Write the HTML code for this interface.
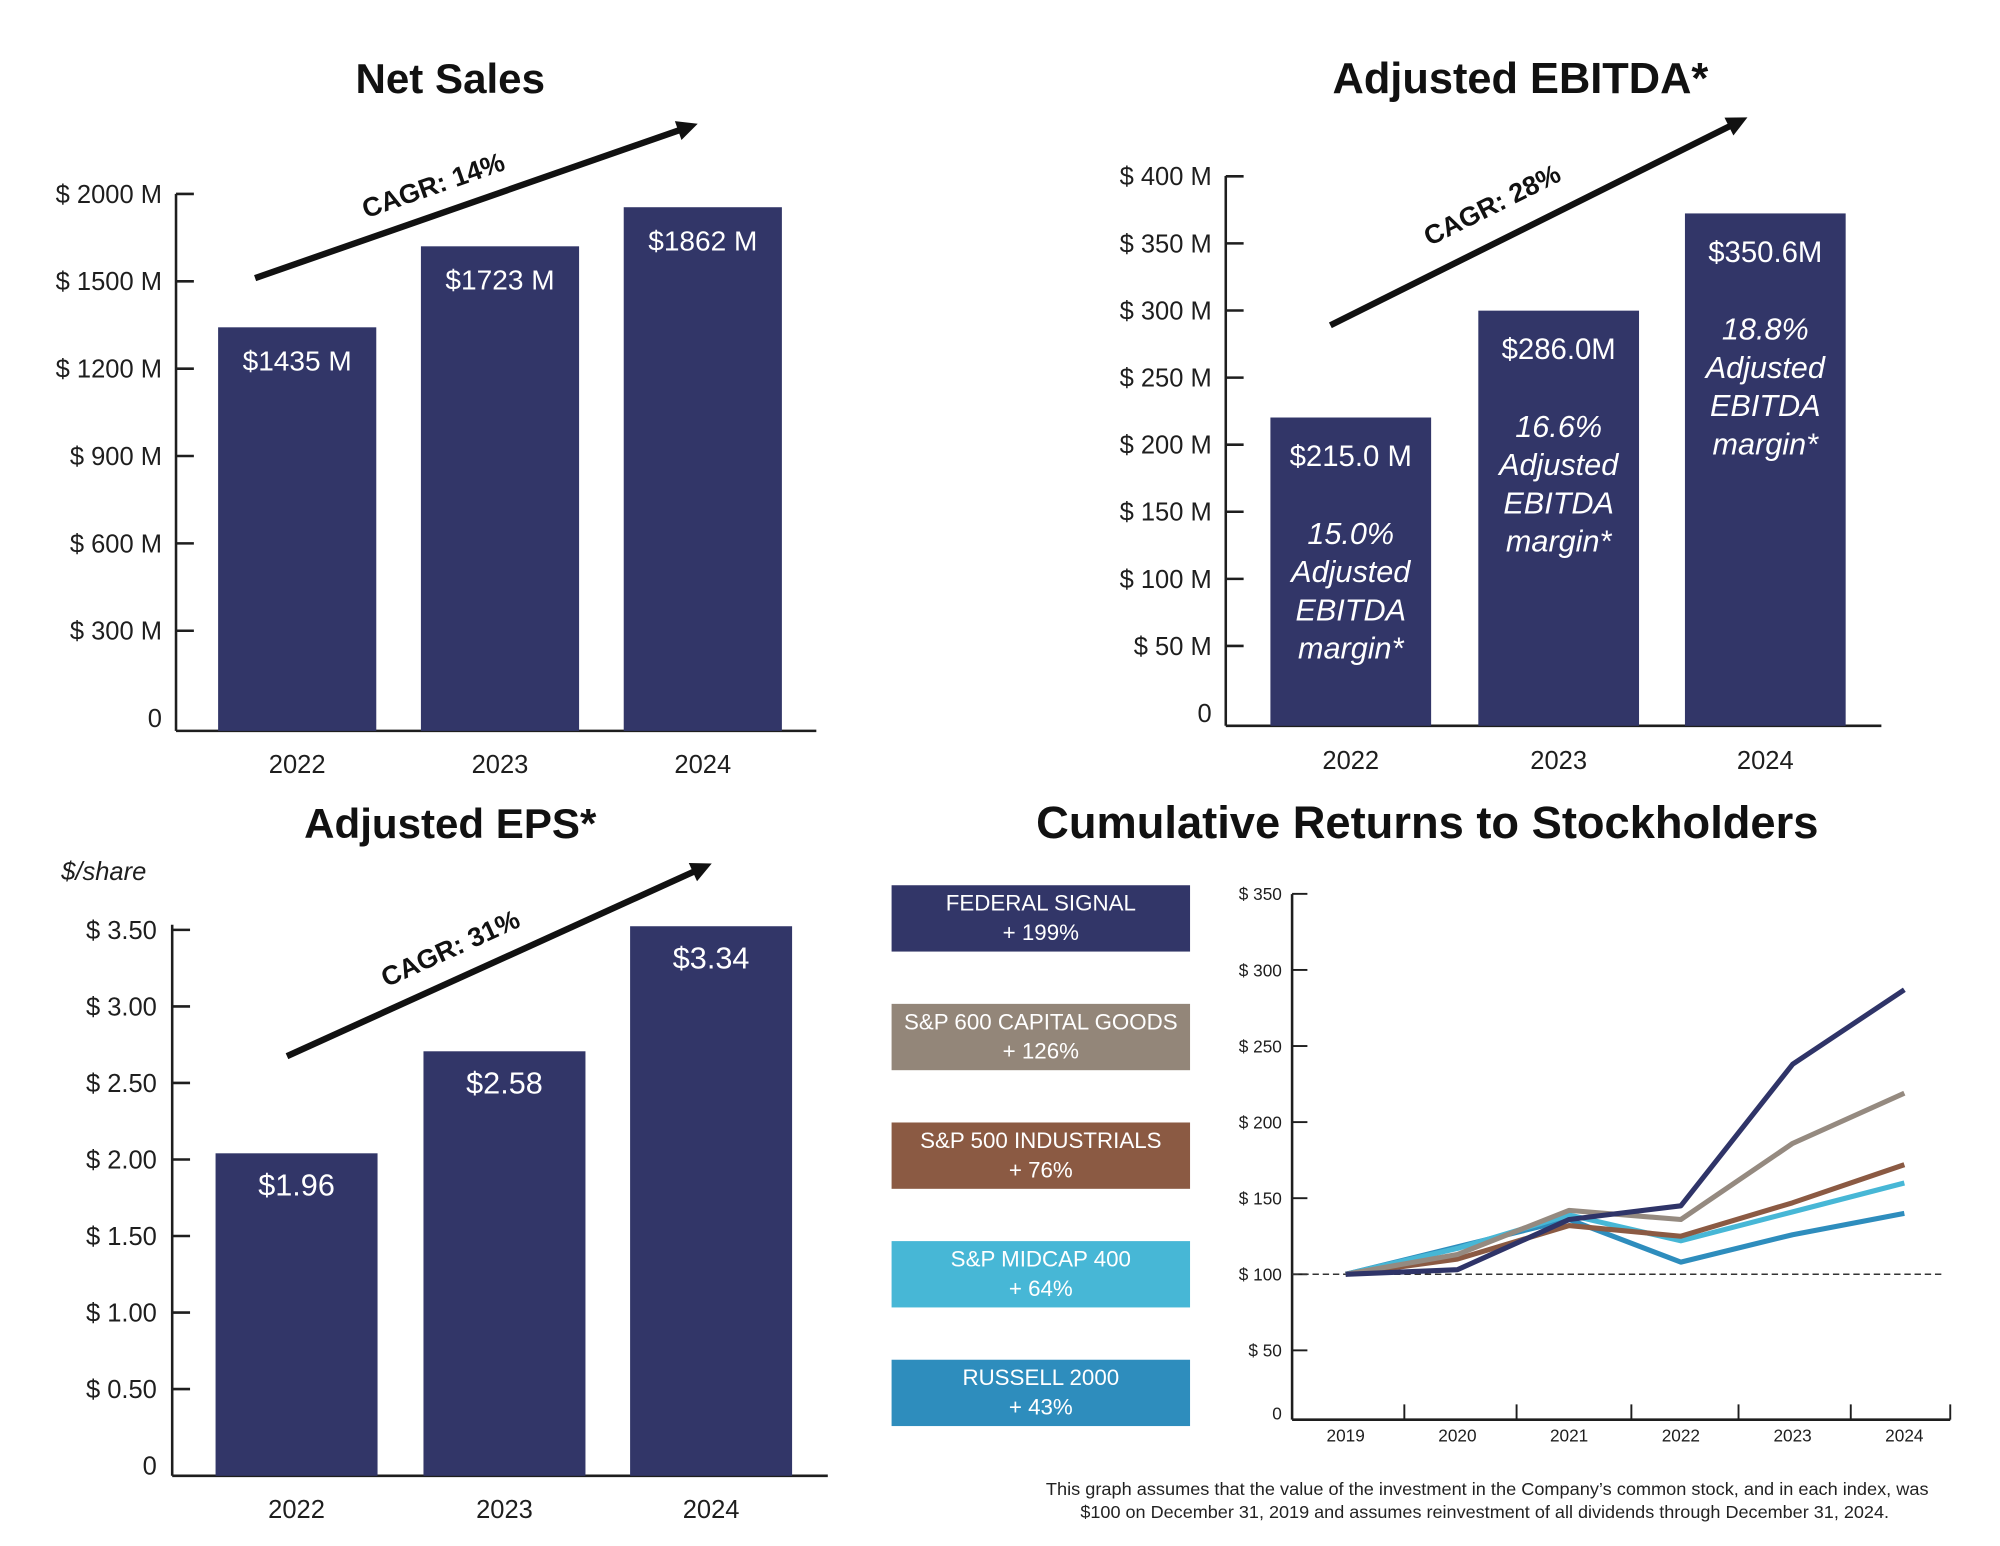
<!DOCTYPE html>
<html><head><meta charset="utf-8"><style>
html,body{margin:0;padding:0;background:#fff;}
svg{display:block;font-family:"Liberation Sans",sans-serif;}
</style></head><body>
<svg id="root" width="2000" height="1546" viewBox="0 0 1568 1212" xmlns="http://www.w3.org/2000/svg">
<rect width="1568" height="1212" fill="#fff"/>
<g id="g"></g>
</svg>
<script>
// ---- data ----
const years = ["2022","2023","2024"];
const salesValues = [1435, 1723, 1862];
const salesLabels = ["$1435 M","$1723 M","$1862 M"];
const salesTicks = ["0","$ 300 M","$ 600 M","$ 900 M","$ 1200 M","$ 1500 M","$ 2000 M"];
const ebitdaValues = [215.0, 286.0, 350.6];
const ebitdaLabels = ["$215.0 M","$286.0M","$350.6M"];
const ebitdaMargins = ["15.0%","16.6%","18.8%"];
const ebitdaTicks = ["0","$ 50 M","$ 100 M","$ 150 M","$ 200 M","$ 250 M","$ 300 M","$ 350 M","$ 400 M"];
const epsValues = [1.96, 2.58, 3.34];
const epsLabels = ["$1.96","$2.58","$3.34"];
const epsTicks = ["0","$ 0.50","$ 1.00","$ 1.50","$ 2.00","$ 2.50","$ 3.00","$ 3.50"];
const returnYears = ["2019","2020","2021","2022","2023","2024"];
const returnTickValues = [0,50,100,150,200,250,300,350];
const fedSignal = [100,103,136,145,238,287];
const capGoods = [100,113,142,136,186,219];
const industrials = [100,110,132,125,147,172];
const midcap = [100,117,139,122,141,160];
const russell = [100,118,136,108,126,140];

const NS="http://www.w3.org/2000/svg";
const G=document.getElementById('g');
function el(tag,attrs,parent,text){const e=document.createElementNS(NS,tag);for(const k in attrs)e.setAttribute(k,attrs[k]);if(text!==undefined)e.textContent=text;(parent||G).appendChild(e);return e;}
const NAVY="#323668", INK="#1e1e1e";

function title(x,y,t,name,fs){const e=el('text',{x:x,y:y,'text-anchor':'middle','font-size':fs||33,'font-weight':'bold',fill:'#111'},G,t);

}
function arrow(x1,y1,x2,y2,tx,ty,label,name){
  const g=el('g',{});
  
  
  const ang=Math.atan2(y2-y1,x2-x1), L=18;
  const ex=x2-Math.cos(ang)*L*0.8, ey=y2-Math.sin(ang)*L*0.8;
  el('line',{x1:x1,y1:y1,x2:ex,y2:ey,stroke:'#111','stroke-width':5},g);
  const a1=ang+Math.PI-0.45,a2=ang+Math.PI+0.45;
  el('polygon',{points:`${x2},${y2} ${x2+Math.cos(a1)*L},${y2+Math.sin(a1)*L} ${x2+Math.cos(a2)*L},${y2+Math.sin(a2)*L}`,fill:'#111'},g);
  const deg=ang*180/Math.PI;
  el('text',{x:tx,y:ty,'text-anchor':'middle','font-size':21,'font-weight':'bold',fill:'#111',transform:`rotate(${deg} ${tx} ${ty})`},g,label);
}
function barChart(cfg){
  const g=el('g',{});
  
  
  el('line',{x1:cfg.ax,y1:cfg.top,x2:cfg.ax,y2:cfg.base,stroke:INK,'stroke-width':2},g);
  el('line',{x1:cfg.ax,y1:cfg.base,x2:cfg.axEnd,y2:cfg.base,stroke:INK,'stroke-width':2},g);
  cfg.ticks.forEach((t,i)=>{
    const y=cfg.tick0-i*cfg.tickStep;
    if(i>0)el('line',{x1:cfg.ax,y1:y,x2:cfg.ax+14,y2:y,stroke:INK,'stroke-width':2},g);
    const tx=el('text',{x:cfg.labelX,y:y+7,'text-anchor':'end','font-size':20,fill:INK},g,t);
    
    
  });
  cfg.values.forEach((v,i)=>{
    const x=cfg.barX[i], yt=cfg.y(v), cx=x+cfg.bw/2;
    const r=el('rect',{x:x,y:yt,width:cfg.bw,height:cfg.base-yt,fill:NAVY},g);
    
    
    const lt=el('text',{x:cx,y:yt+cfg.lblOff,'text-anchor':'middle','font-size':cfg.lblSize,fill:'#fff'},g,cfg.labels[i]);
    
    
    if(cfg.margins){
      const lines=[cfg.margins[i],'Adjusted','EBITDA','margin*'];
      lines.forEach((s,j)=>{el('text',{x:cx,y:yt+99+j*30,'text-anchor':'middle','font-size':24,'font-style':'italic',fill:'#fff'},g,s);});
    }
    const yl=el('text',{x:cx,y:cfg.yearY,'text-anchor':'middle','font-size':20,fill:INK},g,years[i]);
    
    
  });
}

// Net Sales
title(353,73,"Net Sales","net-sales-title");
barChart({name:'net-sales-chart',ax:138,axEnd:640,top:152,base:573,tick0:563,tickStep:68.5,labelX:127,
  ticks:salesTicks,values:salesValues,labels:salesLabels,barX:[171,330,489],bw:124,
  y:v=>573-v*0.2205,lblOff:34,lblSize:22,yearY:606});
arrow(200,218,547,97,342,152,"CAGR: 14%","net-sales-cagr-arrow");

// EBITDA
title(1192,73,"Adjusted EBITDA*","ebitda-title",34);
barChart({name:'ebitda-chart',ax:961,axEnd:1475,top:138,base:569,tick0:559,tickStep:52.6,labelX:950,
  ticks:ebitdaTicks,values:ebitdaValues,labels:ebitdaLabels,margins:ebitdaMargins,barX:[996,1159,1321],bw:126,
  y:v=>581-v*1.18,lblOff:38,lblSize:23,yearY:603});
arrow(1043,255,1370,92,1173,167,"CAGR: 28%","ebitda-cagr-arrow");

// EPS
title(353,657,"Adjusted EPS*","eps-title");
{const t=el('text',{x:48,y:690,'font-size':20,'font-style':'italic',fill:INK},G,"$/share");

}
barChart({name:'eps-chart',ax:135,axEnd:649,top:725,base:1157,tick0:1149,tickStep:60,labelX:123,
  ticks:epsTicks,values:epsValues,labels:epsLabels,barX:[169,332,494],bw:127,
  y:v=>1157-v*129,lblOff:33,lblSize:24,yearY:1190});
arrow(225,828,558,677,356,750,"CAGR: 31%","eps-cagr-arrow");

// Cumulative returns
title(1119,657,"Cumulative Returns to Stockholders","returns-title",35.5);
const legend=[["FEDERAL SIGNAL","+ 199%","#323668"],["S&P 600 CAPITAL GOODS","+ 126%","#938679"],["S&P 500 INDUSTRIALS","+ 76%","#8b5a43"],["S&P MIDCAP 400","+ 64%","#47b7d6"],["RUSSELL 2000","+ 43%","#2e8dbd"]];
legend.forEach((l,i)=>{
  const y=694+i*93;
  const g=el('g',{});
  
  
  el('rect',{x:699,y:y,width:234,height:52,fill:l[2]},g);
  el('text',{x:816,y:y+20,'text-anchor':'middle','font-size':17.5,fill:'#fff'},g,l[0]);
  el('text',{x:816,y:y+43,'text-anchor':'middle','font-size':17.5,fill:'#fff'},g,l[1]);
});
const cx0=1055, cxStep=87.6;
const xS=i=>cx0+i*cxStep;
const yS=v=>999-(v-100)*1.193;
const cg=el('g',{});


el('line',{x1:1013,y1:701,x2:1013,y2:1113,stroke:INK,'stroke-width':2},cg);
el('line',{x1:1013,y1:1113,x2:1529,y2:1113,stroke:INK,'stroke-width':2},cg);
[1101,1189,1279,1363,1451,1529].forEach(x=>el('line',{x1:x,y1:1101,x2:x,y2:1113,stroke:INK,'stroke-width':1.5},cg));
returnTickValues.forEach(v=>{
  const y=yS(v);
  if(v>0)el('line',{x1:1013,y1:y,x2:1025,y2:y,stroke:INK,'stroke-width':1.5},cg);
  const t=el('text',{x:1005,y:(v===0?1108:y)+5,'text-anchor':'end','font-size':13.5,fill:INK},cg,v===0?"0":"$ "+v);
  
  
});
returnYears.forEach((yr,i)=>{const t=el('text',{x:xS(i),y:1130,'text-anchor':'middle','font-size':13.5,fill:INK},cg,yr);

});
el('line',{x1:1013,y1:yS(100),x2:1525,y2:yS(100),stroke:'#333','stroke-width':1.2,'stroke-dasharray':'5,3'},cg);
const series=[[russell,"#2e8dbd","russell-2000-line"],[midcap,"#47b7d6","midcap-400-line"],[industrials,"#8b5a43","sp500-industrials-line"],[capGoods,"#958a80","sp600-capital-goods-line"],[fedSignal,"#2f3468","federal-signal-line"]];
series.forEach(s=>{
  const p=el('polyline',{points:s[0].map((v,i)=>xS(i)+","+yS(v)).join(" "),fill:'none',stroke:s[1],'stroke-width':4,'stroke-linejoin':'round'},cg);
  
  
});
const fn=el('text',{x:1166,y:1172,'text-anchor':'middle','font-size':13.5,textLength:692,lengthAdjust:'spacingAndGlyphs',fill:'#222'},G,"This graph assumes  that the value of the investment in the Company’s common stock, and in each index, was");


el('text',{x:1164,y:1190,'text-anchor':'middle','font-size':13.5,textLength:634,lengthAdjust:'spacingAndGlyphs',fill:'#222'},G,"$100 on December 31, 2019 and assumes reinvestment of all dividends through December 31, 2024.");
</script>
</body></html>
